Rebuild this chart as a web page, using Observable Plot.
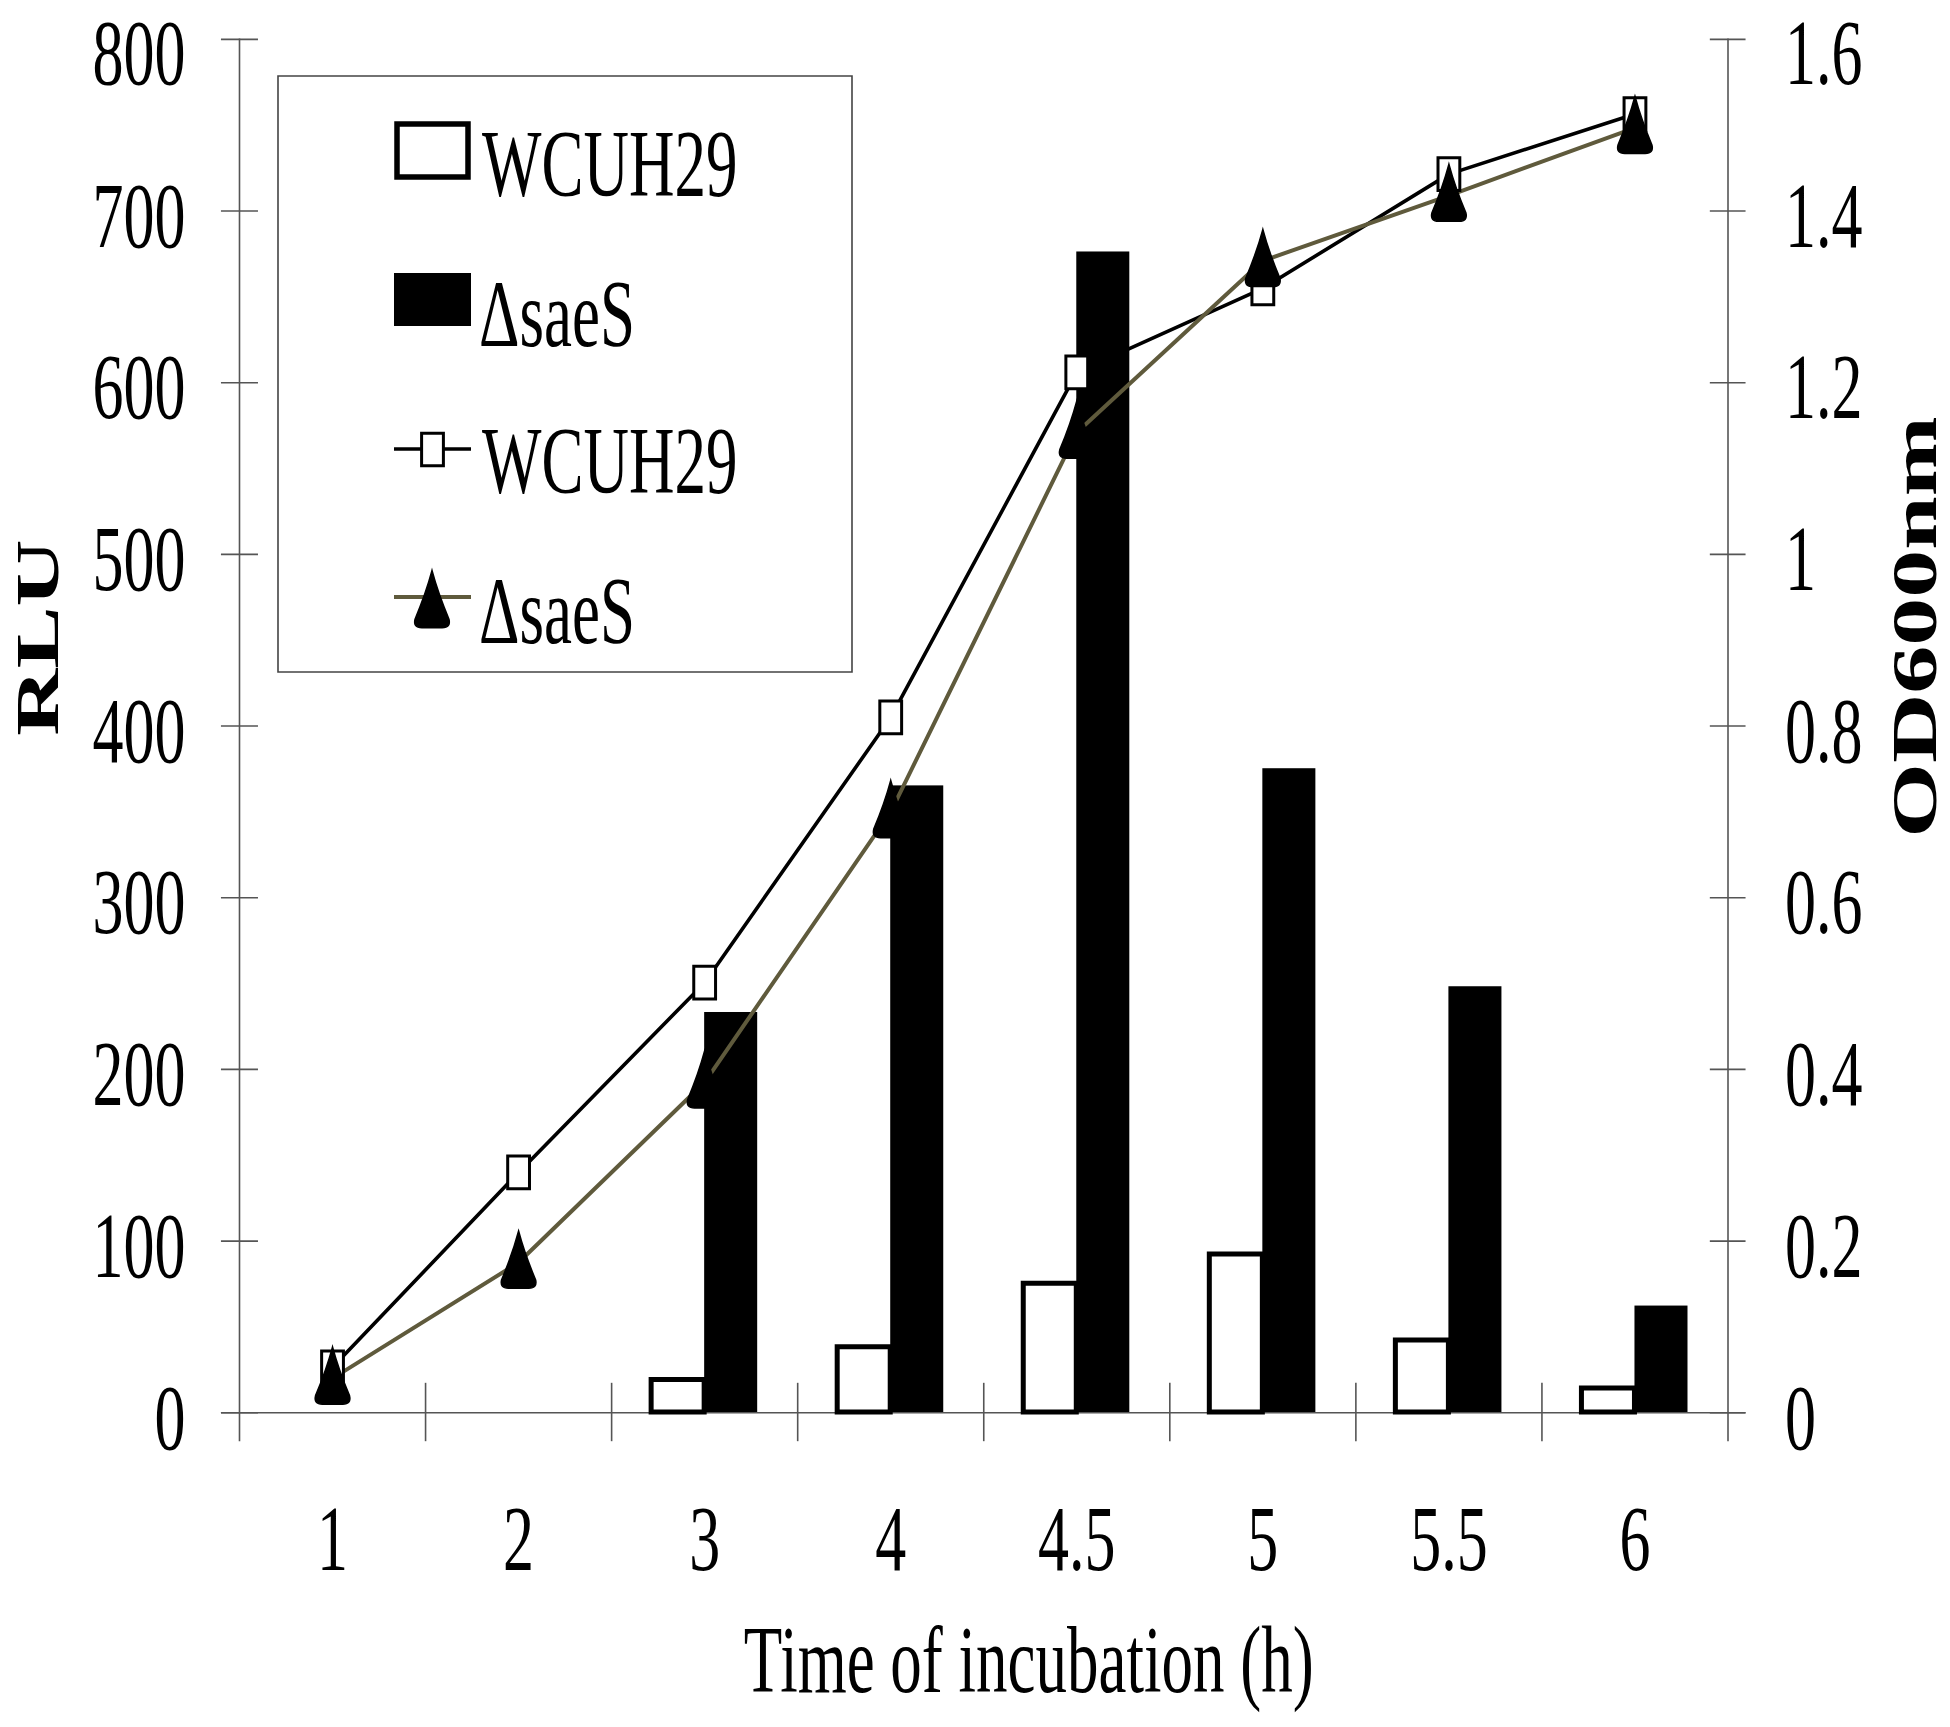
<!DOCTYPE html>
<html>
<head>
<meta charset="utf-8">
<script src="https://cdn.jsdelivr.net/npm/d3@7"></script>
<script src="https://cdn.jsdelivr.net/npm/@observablehq/plot@0.6"></script>
<style>
  html, body { margin: 0; padding: 0; background: #fff; }
  #chart svg { display: block; }
  #chart svg path, #chart svg line, #chart svg rect { vector-effect: non-scaling-stroke; }
</style>
</head>
<body>
<div id="chart"></div>
<script>
// ---- data ----
const times = ["1", "2", "3", "4", "4.5", "5", "5.5", "6"];
const rluWCUH29 = [null, null, 19, 38, 75, 92, 42, 14];
const rluSaeS   = [null, null, 233, 365, 676, 375, 248, 62];
const odWCUH29  = [0.053, 0.28, 0.501, 0.81, 1.212, 1.31, 1.443, 1.513];
const odSaeS    = [0.04, 0.175, 0.385, 0.70, 1.142, 1.342, 1.418, 1.497];
const rluTicks  = [0, 100, 200, 300, 400, 500, 600, 700, 800];
const odTicks   = [0, 0.2, 0.4, 0.6, 0.8, 1, 1.2, 1.4, 1.6];
const odLabels  = ["0", "0.2", "0.4", "0.6", "0.8", "1", "1.2", "1.4", "1.6"];
const legendLabels = ["WCUH29", "\u0394saeS", "WCUH29", "\u0394saeS"];
const xTitle = "Time of incubation (h)";
const yTitle = "RLU";
const y2Title = "OD600nm";

// ---- layout ----
const STRETCH = 1.5;              // reference is stretched vertically
const W = 1950, H = 1727 / STRETCH;
const rluMax = rluTicks[rluTicks.length - 1];
const odToRlu = rluMax / odTicks[odTicks.length - 1];
const FONT = "'Liberation Serif', 'Times New Roman', serif";
const OLIVE = "#5f5a3c";
const AXIS = "#555";

const rows = times.map((t, i) => ({
  t, c: i + 0.5,
  w: rluWCUH29[i], s: rluSaeS[i],
  odW: odWCUH29[i] * odToRlu, odS: odSaeS[i] * odToRlu
}));
const barRows = rows.filter(d => d.w != null);
const BW = 0.285;   // bar width in category units
const TK = 17;      // half tick length (y units)

const leftLabels = rluTicks.map(v => ({y: v, label: String(v)}));
const rightLabels = odTicks.map((v, i) => ({y: v * odToRlu, label: odLabels[i]}));
const isTop = d => d.y >= rluMax;

const tallTriangle = {
  draw(ctx, size) {
    const r = Math.sqrt(size / Math.PI);
    const w = 1.94 * r, h = 2.18 * r;
    ctx.moveTo(0, -0.55 * h);
    ctx.quadraticCurveTo(0.18 * w, -0.15 * h, 0.5 * w, 0.3 * h);
    ctx.quadraticCurveTo(0.56 * w, 0.45 * h, 0.3 * w, 0.45 * h);
    ctx.lineTo(-0.3 * w, 0.45 * h);
    ctx.quadraticCurveTo(-0.56 * w, 0.45 * h, -0.5 * w, 0.3 * h);
    ctx.quadraticCurveTo(-0.18 * w, -0.15 * h, 0, -0.55 * h);
    ctx.closePath();
  }
};

const nCat = times.length;
const frameTop = 38.6 / STRETCH, frameBottom = 1412 / STRETCH;
const tickText = {fontSize: 62, fill: "black"};

const chart = Plot.plot({
  width: W, height: H,
  marginTop: frameTop, marginBottom: H - frameBottom,
  marginLeft: 239, marginRight: W - 1727.5,
  x: {domain: [0, nCat], axis: null},
  y: {domain: [0, rluMax], axis: null},
  style: {fontFamily: FONT, background: "white", color: "black"},
  marks: [
    // axes lines and ticks
    Plot.ruleX([0, nCat], {x: d => d, y1: () => -TK, y2: () => rluMax, stroke: AXIS, strokeWidth: 1.6}),
    Plot.ruleY([0], {y: d => d, x1: () => -0.097, x2: () => nCat + 0.097, stroke: AXIS, strokeWidth: 1.6}),
    Plot.ruleX(d3.range(1, nCat), {x: d => d, y1: () => -TK, y2: () => TK, stroke: AXIS, strokeWidth: 1.6}),
    Plot.ruleY(rluTicks, {y: d => d, x1: () => -0.097, x2: () => 0.102, stroke: AXIS, strokeWidth: 1.6}),
    Plot.ruleY(odTicks, {y: d => d * odToRlu, x1: () => nCat - 0.095, x2: () => nCat + 0.097, stroke: AXIS, strokeWidth: 1.6}),
    // tick labels (top ones nudged so they stay inside the picture)
    Plot.text(leftLabels.filter(d => !isTop(d)), {x: () => 0, y: "y", text: "label", textAnchor: "end", dx: -54, dy: 4, ...tickText}),
    Plot.text(leftLabels.filter(isTop), {x: () => 0, y: "y", text: "label", textAnchor: "end", dx: -54, dy: 10, ...tickText}),
    Plot.text(rightLabels.filter(d => !isTop(d)), {x: () => nCat, y: "y", text: "label", textAnchor: "start", dx: 57, dy: 4, ...tickText}),
    Plot.text(rightLabels.filter(isTop), {x: () => nCat, y: "y", text: "label", textAnchor: "start", dx: 57, dy: 10, ...tickText}),
    Plot.text(rows, {x: "c", y: () => 0, text: "t", dy: 84.7, ...tickText}),
    // titles
    Plot.text([xTitle], {frameAnchor: "bottom", textAnchor: "middle", lineAnchor: "middle", dx: 45, dy: 165.7, fontSize: 63, fill: "black"}),
    Plot.text([yTitle], {frameAnchor: "left", textAnchor: "middle", lineAnchor: "middle", rotate: -90, dx: -201, dy: -59, fontSize: 62, fontWeight: "bold", fill: "black"}),
    Plot.text([y2Title], {frameAnchor: "right", textAnchor: "middle", lineAnchor: "middle", rotate: -90, dx: 188, dy: -66, fontSize: 64, fontWeight: "bold", fill: "black"}),
    // bars
    Plot.rectY(barRows, {x1: d => d.c - BW, x2: d => d.c, y: "w", fill: "white", stroke: "black", strokeWidth: 5}),
    Plot.rectY(barRows, {x1: d => d.c, x2: d => d.c + BW, y: "s", fill: "black"}),
    // OD lines
    Plot.line(rows, {x: "c", y: "odW", stroke: "black", strokeWidth: 3.6}),
    Plot.line(rows, {x: "c", y: "odS", stroke: OLIVE, strokeWidth: 4}),
    Plot.dot(rows, {x: "c", y: "odW", symbol: "square", r: 12.3, fill: "white", stroke: "black", strokeWidth: 3}),
    Plot.dot(rows, {x: "c", y: "odS", symbol: tallTriangle, r: 17.5, fill: "black", stroke: "black", strokeWidth: 1.5})
  ]
});

chart.setAttribute("width", W);
chart.setAttribute("height", 1727);
chart.setAttribute("viewBox", `0 0 ${W} ${H}`);
chart.setAttribute("preserveAspectRatio", "none");

// ---- legend (inside plot area, viewBox coords) ----
const g = d3.select(chart).append("g").attr("font-family", FONT).attr("text-anchor", "start");
const sy = v => v / STRETCH;
g.append("rect").attr("x", 278).attr("y", sy(76)).attr("width", 574).attr("height", sy(672) - sy(76))
  .attr("fill", "white").attr("stroke", "#444").attr("stroke-width", 1.6);
// item 1: white box
g.append("rect").attr("x", 397).attr("y", sy(124)).attr("width", 71).attr("height", sy(177) - sy(124))
  .attr("fill", "white").attr("stroke", "black").attr("stroke-width", 5.5);
// item 2: black box
g.append("rect").attr("x", 394).attr("y", sy(273)).attr("width", 77).attr("height", sy(326) - sy(273))
  .attr("fill", "black");
// item 3: line + square
g.append("line").attr("x1", 394).attr("x2", 471).attr("y1", sy(449)).attr("y2", sy(449))
  .attr("stroke", "black").attr("stroke-width", 3.6);
g.append("path").attr("transform", `translate(432.5,${sy(449.5)})`)
  .attr("d", d3.symbol(d3.symbolSquare, Math.PI * 12.3 * 12.3)())
  .attr("fill", "white").attr("stroke", "black").attr("stroke-width", 3);
// item 4: olive line + triangle
g.append("line").attr("x1", 394).attr("x2", 471).attr("y1", sy(597)).attr("y2", sy(597))
  .attr("stroke", OLIVE).attr("stroke-width", 4);
g.append("path").attr("transform", `translate(432,${sy(602)})`)
  .attr("d", d3.symbol(tallTriangle, Math.PI * 17.5 * 17.5)())
  .attr("fill", "black").attr("stroke", "black").attr("stroke-width", 1.5);
const legendText = [[482, 196], [479, 346], [482, 493], [479, 643]];
legendLabels.forEach((lab, i) => {
  g.append("text").attr("x", legendText[i][0]).attr("y", sy(legendText[i][1]))
    .attr("text-anchor", "start")
    .attr("font-size", 63).attr("fill", "black").text(lab);
});

document.getElementById("chart").appendChild(chart);
</script>
</body>
</html>
